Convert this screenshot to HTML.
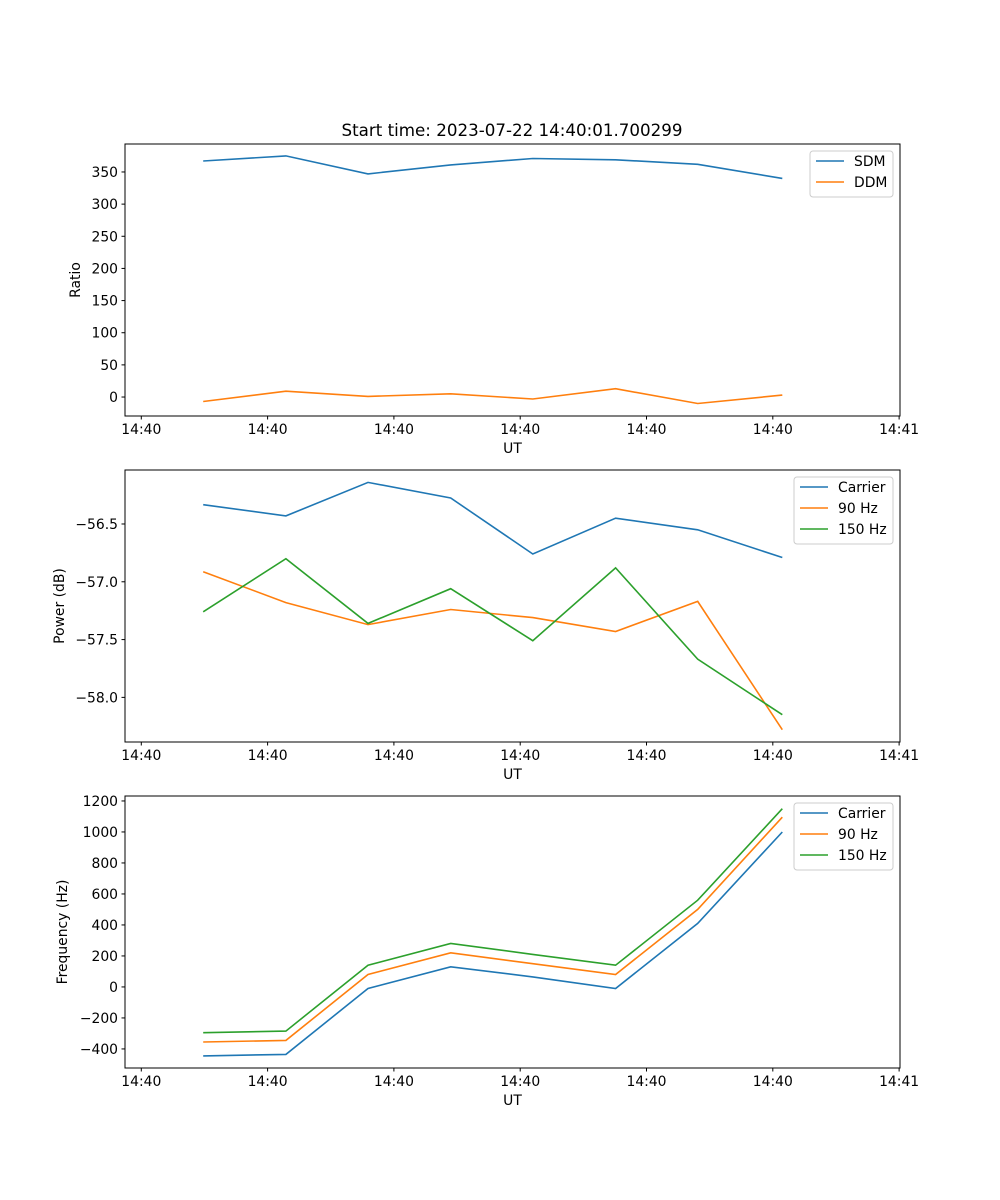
<!DOCTYPE html>
<html><head><meta charset="utf-8"><style>
body{margin:0;background:#fff}
svg{display:block;font-family:"DejaVu Sans","Liberation Sans",sans-serif}
</style></head><body>
<svg id="fig" width="1000" height="1200"></svg>
<script>
const times = [4.9, 11.45, 17.95, 24.5, 31.0, 37.55, 44.05, 50.75];
const xTickVals = [0, 10, 20, 30, 40, 50, 60];
const xTickLabels = ["14:40","14:40","14:40","14:40","14:40","14:40","14:41"];
const sdm = [367, 375, 347, 361, 371, 369, 362, 340];
const ddm = [-7, 9, 1, 5, -3, 13, -10, 3];
const powCarrier = [-56.333, -56.43, -56.14, -56.275, -56.76, -56.45, -56.55, -56.79];
const pow90 = [-56.913, -57.18, -57.37, -57.24, -57.31, -57.43, -57.17, -58.28];
const pow150 = [-57.26, -56.80, -57.36, -57.06, -57.51, -56.88, -57.67, -58.15];
const freqCarrier = [-445, -435, -10, 130, 65, -10, 410, 1000];
const freq90 = [-355, -345, 80, 220, 150, 80, 500, 1095];
const freq150 = [-295, -285, 140, 280, 210, 140, 560, 1150];
const ratioTicks = [0, 50, 100, 150, 200, 250, 300, 350];
const powTicks = [-56.5, -57.0, -57.5, -58.0];
const freqTicks = [-400, -200, 0, 200, 400, 600, 800, 1000, 1200];

const NS = "http://www.w3.org/2000/svg";
const svg = document.getElementById("fig");
function el(tag, attrs, parent) {
  const e = document.createElementNS(NS, tag);
  for (const k in attrs) e.setAttribute(k, attrs[k]);
  (parent || svg).appendChild(e);
  return e;
}
const L = 125, R = 900, X0 = -1.29, X1 = 60.07;
const xs = t => L + (t - X0) / (X1 - X0) * (R - L);
const C = {blue: "#1f77b4", orange: "#ff7f0e", green: "#2ca02c"};

function panel(name, top, bot, ymin, ymax, yticks, fmt, ylabel, series, legend) {
  const g = el("g", {});
  
  
  const ys = v => bot - (v - ymin) / (ymax - ymin) * (bot - top);
  series.forEach(s => {
    const p = el("polyline", {points: s.vals.map((v, i) => xs(times[i]).toFixed(1) + "," + ys(v).toFixed(1)).join(" "), fill: "none", stroke: s.color, "stroke-width": 1.6}, g);
    
    
  });
  const frame = el("rect", {x: L, y: top, width: R - L, height: bot - top, fill: "none", stroke: "#000", "stroke-width": 1}, g);
  
  
  xTickVals.forEach((t, i) => {
    const x = xs(t);
    el("line", {x1: x, x2: x, y1: bot, y2: bot + 3.5, stroke: "#000"}, g);
    const tx = el("text", {x: x, y: bot + 18, "font-size": 13.9, "text-anchor": "middle"}, g);
    tx.textContent = xTickLabels[i];
    
    
  });
  yticks.forEach(v => {
    const y = ys(v);
    el("line", {x1: L - 3.5, x2: L, y1: y, y2: y, stroke: "#000"}, g);
    const tx = el("text", {x: L - 7, y: y + 5, "font-size": 13.9, "text-anchor": "end"}, g);
    tx.textContent = fmt(v).replace("-", "\u2212");
    
    
  });
  const xl = el("text", {x: (L + R) / 2, y: bot + 37, "font-size": 13.9, "text-anchor": "middle"}, g);
  xl.textContent = "UT";
  
  
  const yx = legend.ylx, ym = (top + bot) / 2;
  const yl = el("text", {x: yx, y: ym, "font-size": 13.9, "text-anchor": "middle", transform: `rotate(-90 ${yx} ${ym})`}, g);
  yl.textContent = ylabel;
  
  
  const lg = el("g", {}, g);
  
  
  const lh = 4 + series.length * 21;
  el("rect", {x: legend.x, y: top + 7, width: R - 7 - legend.x, height: lh, rx: 3, fill: "#fff", stroke: "#ccc", "fill-opacity": 0.8}, lg);
  series.forEach((s, i) => {
    const y = top + 17 + i * 21;
    el("line", {x1: legend.x + 6, x2: legend.x + 34, y1: y, y2: y, stroke: s.color, "stroke-width": 1.6}, lg);
    const t = el("text", {x: legend.x + 44, y: y + 5, "font-size": 13.9}, lg);
    t.textContent = s.label;
    
    
  });
}

const title = el("text", {x: 512, y: 136, "font-size": 16.7, "text-anchor": "middle"});
title.textContent = "Start time: 2023-07-22 14:40:01.700299";



panel("ratio-panel", 144, 416, -29.5, 393.5, ratioTicks, v => String(v), "Ratio",
  [{id: "sdm-line", vals: sdm, color: C.blue, label: "SDM"}, {id: "ddm-line", vals: ddm, color: C.orange, label: "DDM"}],
  {x: 810, ylx: 80});
panel("power-panel", 470, 742, -58.386, -56.033, powTicks, v => v.toFixed(1), "Power (dB)",
  [{id: "power-carrier-line", vals: powCarrier, color: C.blue, label: "Carrier"},
   {id: "power-90hz-line", vals: pow90, color: C.orange, label: "90 Hz"},
   {id: "power-150hz-line", vals: pow150, color: C.green, label: "150 Hz"}],
  {x: 794, ylx: 64});
panel("frequency-panel", 796, 1068, -523, 1232, freqTicks, v => String(v), "Frequency (Hz)",
  [{id: "freq-carrier-line", vals: freqCarrier, color: C.blue, label: "Carrier"},
   {id: "freq-90hz-line", vals: freq90, color: C.orange, label: "90 Hz"},
   {id: "freq-150hz-line", vals: freq150, color: C.green, label: "150 Hz"}],
  {x: 794, ylx: 67});
</script>
</body></html>
